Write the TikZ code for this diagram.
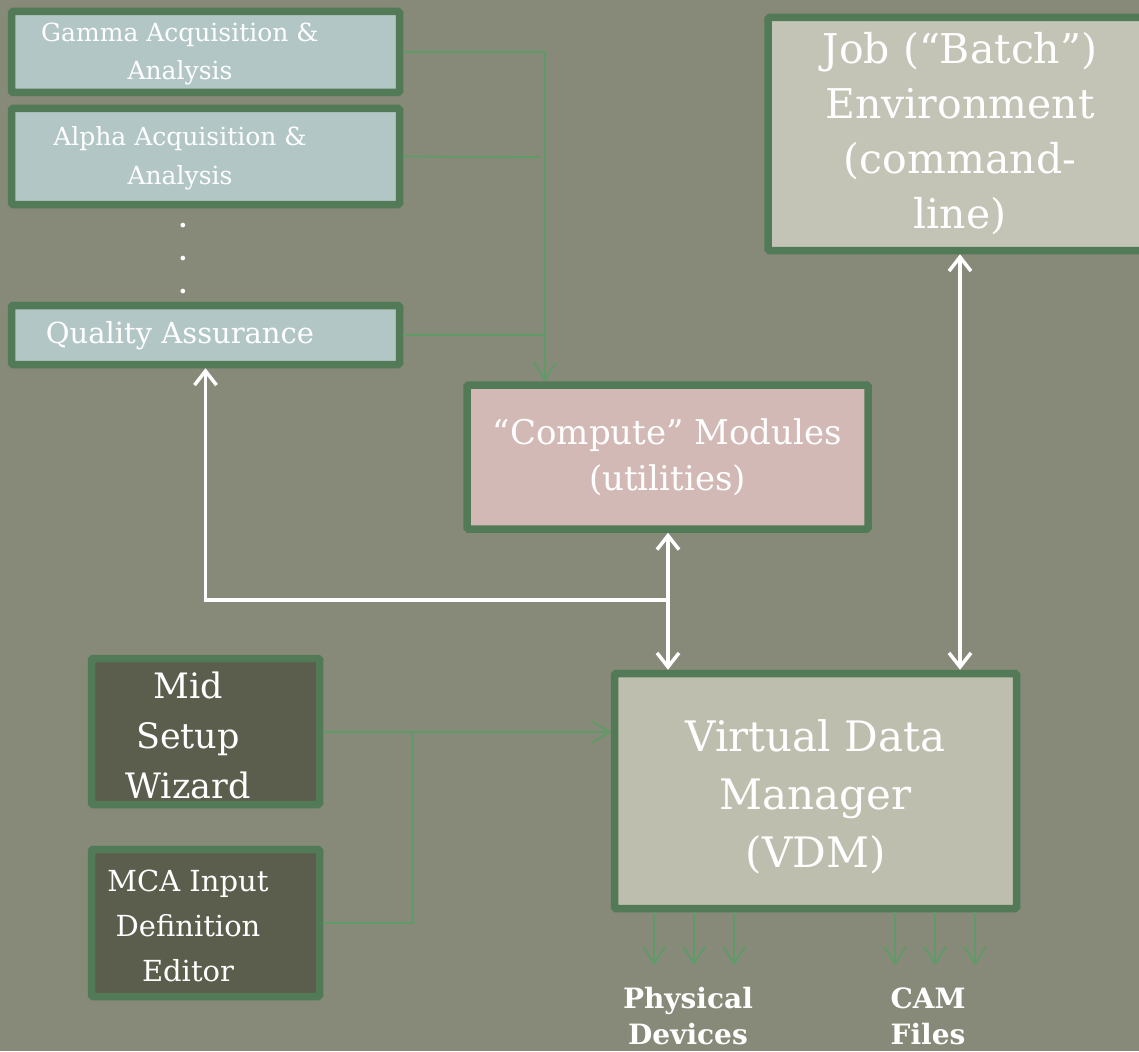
\documentclass[tikz,border=0pt]{standalone}
\usepackage{fontspec}
\setmainfont{DejaVu Serif}
\usetikzlibrary{arrows.meta}
\definecolor{bgc}{HTML}{878A78}
\definecolor{bord}{HTML}{527A56}
\definecolor{glc}{HTML}{5E9B67}
\definecolor{bluef}{HTML}{B3C6C6}
\definecolor{pinkf}{HTML}{D3B9B5}
\definecolor{greyf}{HTML}{C3C4B6}
\definecolor{vdmf}{HTML}{BEBEAE}
\definecolor{darkf}{HTML}{5B5E4C}
\tikzset{
  box/.style={draw=bord, line width=7.5pt, rectangle, inner sep=0pt, text=white, align=center, rounded corners=1.5pt},
  txt/.style={text=white, align=center, inner sep=0pt},
  gline/.style={draw=glc, line width=1.8pt},
  garrow/.style={gline, -{Straight Barb[length=17pt,width=22pt,line width=1.8pt]}},
  wline/.style={draw=white, line width=3.5pt},
  warrows/.style={wline, {Straight Barb[length=14pt,width=22pt,line width=3.5pt]}-{Straight Barb[length=14pt,width=22pt,line width=3.5pt]}},
  warrowstart/.style={wline, {Straight Barb[length=14pt,width=22pt,line width=3.5pt]}-},
}
\begin{document}
\begin{tikzpicture}[x=1pt,y=-1pt]
\fill[bgc] (0,0) rectangle (1139,1051);
\useasboundingbox (0,0) rectangle (1139,1051);
\begin{scope}
\clip (0,0) rectangle (1139,1051);
\node[box, fill=bluef, minimum width=388pt, minimum height=81pt] (gamma) at (205.5,52) {};
\node[txt, font=\fontsize{25}{38}\selectfont] (gammat) at (180,54) {Gamma Acquisition \&\\Analysis};
\node[box, fill=bluef, minimum width=388pt, minimum height=96pt] (alpha) at (205.5,156.5) {};
\node[txt, font=\fontsize{25}{39}\selectfont] (alphat) at (180,158) {Alpha Acquisition \&\\Analysis};
\node[box, fill=bluef, minimum width=388pt, minimum height=59pt] (qa) at (205.5,335) {};
\node[txt, font=\fontsize{29}{35}\selectfont] (qat) at (180,336) {Quality Assurance};
\node[txt, font=\fontsize{25}{33}\selectfont\bfseries] (dots) at (183,259) {.\\.\\.};
\node[box, fill=pinkf, minimum width=401pt, minimum height=144pt, font=\fontsize{34}{46}\selectfont] (compute) at (667.5,457) {“Compute” Modules\\(utilities)};
\node[box, fill=greyf, minimum width=384pt, minimum height=233pt, font=\fontsize{41}{55}\selectfont] (job) at (960,134) {Job (“Batch”)\\Environment\\(command-\\line)};
\node[box, fill=vdmf, minimum width=402pt, minimum height=235pt] (vdm) at (815.5,791) {};
\node[txt, font=\fontsize{42}{58}\selectfont] (vdmt) at (815.5,797) {Virtual Data\\Manager\\(VDM)};
\node[box, fill=darkf, minimum width=228pt, minimum height=146pt] (mid) at (205.5,731.5) {};
\node[txt, font=\fontsize{35}{50}\selectfont] (midt) at (188,735) {Mid\\Setup\\Wizard};
\node[box, fill=darkf, minimum width=228pt, minimum height=147pt] (mca) at (205.5,923) {};
\node[txt, font=\fontsize{29}{45}\selectfont] (mcat) at (188,926) {MCA Input\\Definition\\Editor};
\end{scope}
\node[txt, font=\fontsize{28}{36}\selectfont\bfseries] (phys) at (688,1016) {Physical\\Devices};
\node[txt, font=\fontsize{28}{36}\selectfont\bfseries] (cam) at (928,1016) {CAM\\Files};
% green connectors from modules
\coordinate (jg) at (545,52);
\coordinate (ja) at (540,157);
\coordinate (jq) at (545,335);
\draw[garrow] (gamma.east) -- (jg) -- (jg |- compute.north);
\draw[gline] (alpha.east) -- (ja);
\draw[gline] (qa.east) -- (jq);
% white connectors
\coordinate (wj) at (668,600);
\draw[warrowstart] (qa.south) -- (qa.south |- wj) -- (wj);
\draw[warrows] (compute.south -| wj) -- (wj |- vdm.north);
\draw[warrows] (job.south) -- (job.south |- vdm.north);
% setup tools to VDM
\coordinate (jm) at (413,923);
\coordinate (jmm) at (413,732);
\draw[gline] (mid.east |- jmm) -- (jmm);
\draw[garrow] (jmm) -- (vdm.west |- jmm);
\draw[gline] (mca.east) -- (jm) -- (jmm);
% outputs
\foreach \x in {654,694,734,895,935,975}{
  \draw[garrow] (vdm.south -| \x,0) -- ++(0,53);
}
\end{tikzpicture}
\end{document}
